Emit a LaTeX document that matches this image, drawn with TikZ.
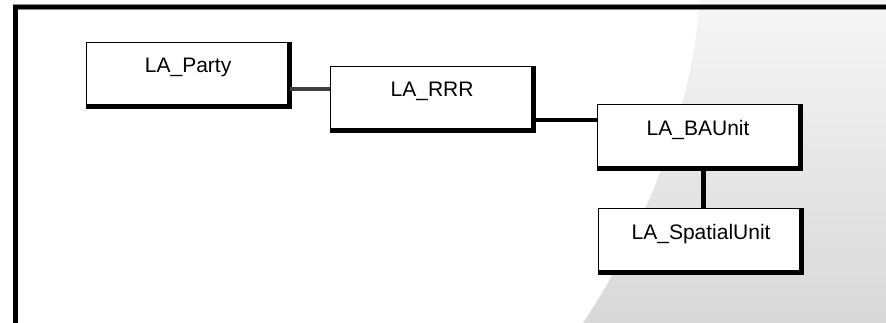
\documentclass[tikz,border=0pt]{standalone}
\usepackage{fontspec}
\setmainfont{Liberation Sans}
\usetikzlibrary{calc}
\definecolor{shadetop}{RGB}{246,246,246}
\definecolor{shadebot}{RGB}{216,216,216}
\definecolor{halo}{RGB}{140,140,140}
\tikzset{
  classbox/.style={draw=black, line width=1.2pt, fill=white, minimum width=201pt,
    minimum height=62pt, inner sep=0pt, anchor=north west},
  boxname/.style={anchor=base, inner sep=0pt, font=\fontsize{21}{25}\selectfont},
  boxshadow/.style={draw=black, line width=4pt, line join=miter},
  link/.style={draw=black, line width=4pt},
  linksoft/.style={draw=black!75, line width=4pt},
  framehalo/.style={draw=halo, line width=5.6pt, line join=miter},
  frameline/.style={draw=black, line width=4.2pt, line join=miter}
}
\begin{document}
\begin{tikzpicture}[x=1pt,y=-1pt]
\useasboundingbox (0,0) rectangle (886,323);

% light grey swept panel on the right
\shade[top color=shadetop, bottom color=shadebot]
  (700,0) .. controls (692,110) and (645,230) .. (583,323) -- (886,323) -- (886,0) -- cycle;

% outer frame (top and left edges)
\draw[framehalo] (15.5,323) -- (15.5,7) -- (886,7);
\draw[frameline] (15.5,323) -- (15.5,7) -- (886,7);

% class boxes
\node[classbox] (party)   at (86,42)   {};
\node[classbox] (rrr)     at (330,66)  {};
\node[classbox] (baunit)  at (597,104) {};
\node[classbox] (spatial) at (598,208) {};

% heavy right/bottom edges
\foreach \b in {party,rrr,baunit,spatial}{
  \draw[boxshadow] ($(\b.north east)+(1.5,0)$) -- ($(\b.south east)+(1.5,1.5)$)
    -- ($(\b.south west)+(0,1.5)$);
}

% class names
\node[boxname] (partyname)   at ($(party.north)+(1,30.5)$)   {LA\_Party};
\node[boxname] (rrrname)     at ($(rrr.north)+(1,31)$)       {LA\_RRR};
\node[boxname] (baunitname)  at ($(baunit.north)+(0,32)$)    {LA\_BAUnit};
\node[boxname] (spatialname) at ($(spatial.north)+(2,32)$)   {LA\_SpatialUnit};

% connector levels
\coordinate (ypr) at (0,89);
\coordinate (yrb) at (0,120);
\coordinate (xbs) at (703,0);

% associations
\draw[linksoft] ($(party.east |- ypr)+(1.5,0)$) -- (rrr.west |- ypr);
\draw[link] ($(rrr.east |- yrb)+(1.5,0)$) -- (baunit.west |- yrb);
\draw[link, line width=5pt] ($(baunit.south -| xbs)+(0,1.5)$) -- (spatial.north -| xbs);
\end{tikzpicture}
\end{document}
